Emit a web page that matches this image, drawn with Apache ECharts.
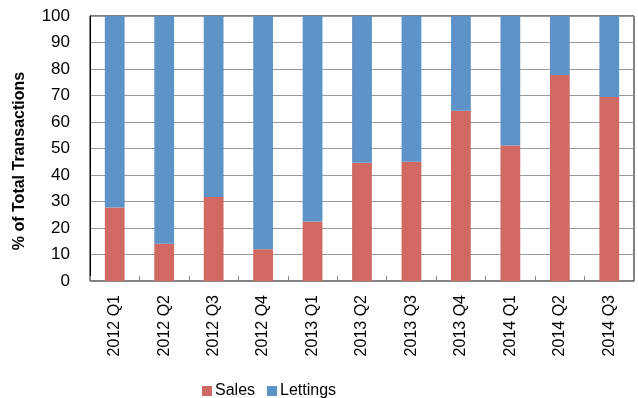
<!DOCTYPE html>
<html><head><meta charset="utf-8">
<script src="https://cdn.jsdelivr.net/npm/echarts@6/dist/echarts.min.js"></script>
<style>html,body{margin:0;padding:0;background:#fff}#c{width:638px;height:398px}</style>
</head><body><div id="c"></div>
<script>
const categories = ['2012 Q1','2012 Q2','2012 Q3','2012 Q4','2013 Q1','2013 Q2','2013 Q3','2013 Q4','2014 Q1','2014 Q2','2014 Q3'];
const sales = [27.7, 14.1, 31.7, 12.0, 22.5, 44.6, 45.0, 64.2, 51.1, 77.7, 69.4];
const lettings = sales.map(v => +(100 - v).toFixed(1));
const yTicks = [0,10,20,30,40,50,60,70,80,90,100];
const yTitle = '% of Total Transactions';

const chart = echarts.init(document.getElementById('c'), null, {renderer:'canvas'});
const font = 'Liberation Sans';
chart.setOption({
  animation:false,
  grid:{left:90, right:4, top:16, bottom:117, show:true, borderColor:'#000', borderWidth:1, backgroundColor:'transparent'},
  legend:{left:197, top:378, itemWidth:10, itemHeight:10, itemGap:12,
    textStyle:{fontFamily:font, fontSize:16, color:'#000', padding:[0,0,0,-2]},
    data:[{name:'Sales', icon:'rect'},{name:'Lettings', icon:'rect'}]},
  graphic:[{type:'text', x:20, y:161, rotation:Math.PI/2,
    style:{text:yTitle, fontFamily:font, fontSize:16, fontWeight:'bold', fill:'#000', align:'center', verticalAlign:'middle'}}],
  xAxis:{type:'category', data:categories,
    axisLine:{lineStyle:{color:'#888', width:1}},
    axisTick:{show:true, inside:true, length:5, alignWithLabel:false, lineStyle:{color:'#888'}},
    axisLabel:{rotate:90, fontFamily:font, fontSize:16, color:'#000', margin:14}},
  yAxis:{type:'value', min:0, max:100, interval:10,
    axisLine:{show:true, lineStyle:{color:'#000'}},
    axisTick:{show:false},
    splitLine:{lineStyle:{color:'#999', width:1}},
    axisLabel:{fontFamily:font, fontSize:17, color:'#000', margin:20,
      formatter: v => yTicks.includes(v) ? String(v) : ''}},
  series:[
    {name:'Sales', type:'bar', stack:'t', data:sales, barWidth:'40%', itemStyle:{color:'#D06962'}},
    {name:'Lettings', type:'bar', stack:'t', data:lettings, barWidth:'40%', itemStyle:{color:'#5E93C8'}}
  ]
});
</script></body></html>
